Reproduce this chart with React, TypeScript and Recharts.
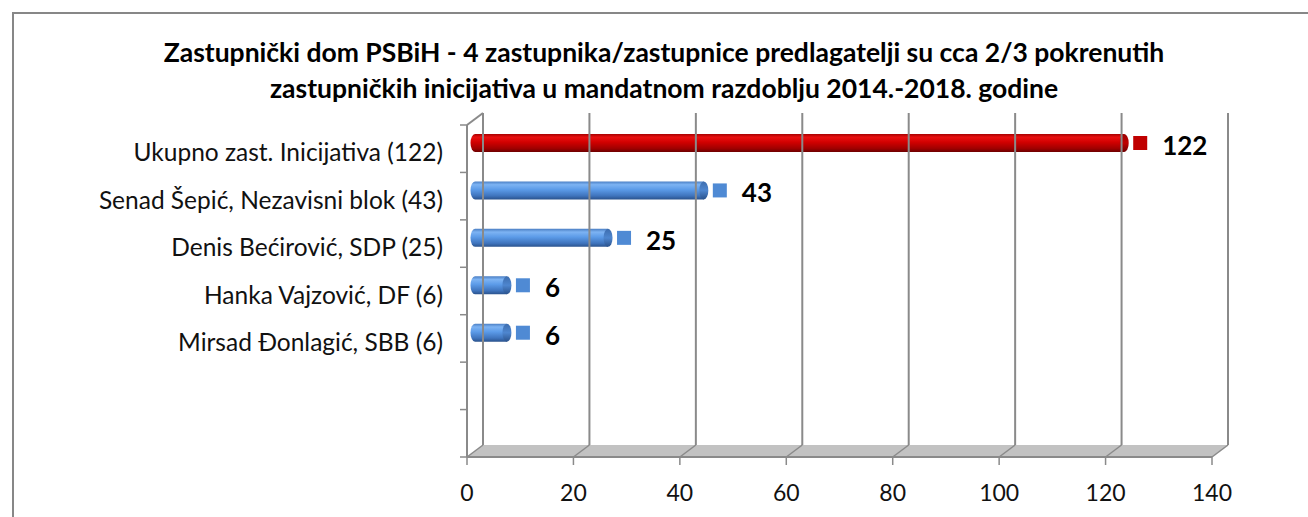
import React from 'react';
import {
  BarChart,
  Bar,
  XAxis,
  YAxis,
  ReferenceLine,
  ReferenceArea,
  LabelList,
  Cell,
} from 'recharts';

const TITLE_LINES = [
  'Zastupnički dom PSBiH - 4 zastupnika/zastupnice predlagatelji su cca 2/3 pokrenutih',
  'zastupničkih inicijativa u mandatnom razdoblju 2014.-2018. godine',
];

// 7 kategorija na osi, zadnje dvije su prazne (kao u Excelu)
const CATEGORIES = [
  'Ukupno zast. Inicijativa (122)',
  'Senad Šepić, Nezavisni blok (43)',
  'Denis Bećirović, SDP (25)',
  'Hanka Vajzović, DF (6)',
  'Mirsad Đonlagić, SBB (6)',
  '',
  '',
];
const VALUES = [122, 43, 25, 6, 6, null, null];
const X_TICKS = [0, 20, 40, 60, 80, 100, 120, 140];

const BAR_KIND = ['total', 'member', 'member', 'member', 'member', 'member', 'member'];

const W = 1308;
const H = 517;
const DX = 16; // dubina 3D zida
const DY = 12;
const FONT = 'Lato, "Open Sans", sans-serif';
const FRAME = '#8a8a8a';

const SWATCH = { total: '#C00000', member: '#4F8AD4' };

const data = CATEGORIES.map((name, i) => ({ name, value: VALUES[i], kind: BAR_KIND[i] }));

const Cylinder = (props: any) => {
  const { x, y, width, height, payload } = props;
  if (!width || width <= 0) return null;
  const X = x + DX / 2;
  const Y = y - DY / 2;
  const ry = height / 2;
  const rx = 4.5;
  const id = payload.kind === 'total' ? 'cylRed' : 'cylBlue';
  const cap = payload.kind === 'total' ? 'capRed' : 'capBlue';
  const body = `M ${X} ${Y} L ${X + width} ${Y} L ${X + width} ${Y + height} L ${X} ${Y + height} A ${rx} ${ry} 0 0 1 ${X} ${Y} Z`;
  return (
    <g>
      <path d={body} fill={`url(#${id})`} />
      <ellipse cx={X + width} cy={Y + ry} rx={rx} ry={ry} fill={`url(#${cap})`} />
    </g>
  );
};

const ValueLabel = (props: any) => {
  const { x, y, width, height, value, index } = props;
  if (value == null) return null;
  const kind = BAR_KIND[index];
  const end = x + width + DX / 2;
  const cy = y - DY / 2 + height / 2;
  const s = 14;
  return (
    <g>
      <rect x={end + 9} y={cy - s / 2} width={s} height={s} fill={SWATCH[kind as 'total' | 'member']} />
      <text
        x={end + 9 + s + 15}
        y={cy + 2}
        dominantBaseline="central"
        fontFamily={FONT}
        fontWeight={700}
        fontSize={26}
        fill="#000"
      >
        {value}
      </text>
    </g>
  );
};

// pod (siva ploča), dijagonala gore lijevo i crtice između kategorija
const Floor = (props: any) => {
  const { x, y, width, height } = props;
  const b = y + height;
  const n = CATEGORIES.length;
  return (
    <g>
      <polygon
        points={`${x},${b} ${x + width},${b} ${x + width + DX},${b - DY} ${x + DX},${b - DY}`}
        fill="#c2c2c2"
      />
      <line x1={x} y1={y} x2={x + DX} y2={y - DY} stroke={FRAME} strokeWidth={2} />
      {CATEGORIES.concat(['']).map((_, k) => (
        <line
          key={k}
          x1={x - 7}
          y1={y + (height * k) / n}
          x2={x}
          y2={y + (height * k) / n}
          stroke={FRAME}
          strokeWidth={1.5}
        />
      ))}
    </g>
  );
};

const WallLine = (props: any) => {
  const top = Math.min(props.y1, props.y2);
  const bottom = Math.max(props.y1, props.y2);
  const x = props.x1;
  return (
    <g>
      <line x1={x + DX} y1={top - DY} x2={x + DX} y2={bottom - DY} stroke={FRAME} strokeWidth={2} />
      <line x1={x} y1={bottom} x2={x + DX} y2={bottom - DY} stroke={FRAME} strokeWidth={1.5} />
    </g>
  );
};

const CategoryTick = (props: any) => {
  const { x, y, payload } = props;
  return (
    <text x={x} y={y + 3} textAnchor="end" dominantBaseline="central" fontFamily={FONT} fontSize={24.5} fill="#111">
      {payload.value}
    </text>
  );
};

export default function App() {
  return (
    <div style={{ position: 'absolute', left: 0, top: 0, width: W, height: H, overflow: 'hidden', background: '#fff' }}>
      <svg width={0} height={0} style={{ position: 'absolute' }}>
        <defs>
          <linearGradient id="cylBlue" x1="0" y1="0" x2="0" y2="1">
            <stop offset="0%" stopColor="#4B7FC4" />
            <stop offset="18%" stopColor="#7DB3F3" />
            <stop offset="45%" stopColor="#5C9BE8" />
            <stop offset="80%" stopColor="#3F74BD" />
            <stop offset="100%" stopColor="#2A528C" />
          </linearGradient>
          <linearGradient id="capBlue" x1="0" y1="0" x2="0" y2="1">
            <stop offset="0%" stopColor="#3D6DAE" />
            <stop offset="50%" stopColor="#4E86CF" />
            <stop offset="100%" stopColor="#2A528C" />
          </linearGradient>
          <linearGradient id="cylRed" x1="0" y1="0" x2="0" y2="1">
            <stop offset="0%" stopColor="#A80000" />
            <stop offset="18%" stopColor="#E81010" />
            <stop offset="45%" stopColor="#D20000" />
            <stop offset="80%" stopColor="#A00000" />
            <stop offset="100%" stopColor="#6E0000" />
          </linearGradient>
          <linearGradient id="capRed" x1="0" y1="0" x2="0" y2="1">
            <stop offset="0%" stopColor="#9A0000" />
            <stop offset="50%" stopColor="#C00000" />
            <stop offset="100%" stopColor="#6E0000" />
          </linearGradient>
        </defs>
      </svg>

      <div
        style={{
          position: 'absolute',
          left: 12,
          top: 12,
          width: W + 20,
          height: H + 20,
          border: '2px solid #878787',
          boxSizing: 'border-box',
        }}
      />

      <div
        style={{
          position: 'absolute',
          left: 14,
          width: 1300,
          top: 34,
          textAlign: 'center',
          fontFamily: FONT,
          fontWeight: 700,
          fontSize: 26.5,
          lineHeight: '36px',
          color: '#000',
        }}
      >
        {TITLE_LINES.map((t) => (
          <div key={t}>{t}</div>
        ))}
      </div>

      <div style={{ position: 'absolute', left: 0, top: 0 }}>
        <BarChart
          width={W}
          height={H}
          data={data}
          layout="vertical"
          margin={{ top: 125, right: 96, left: 27, bottom: 20 }}
        >
          <XAxis
            type="number"
            domain={[0, 140]}
            ticks={X_TICKS}
            interval={0}
            height={40}
            axisLine={{ stroke: FRAME, strokeWidth: 2 }}
            tickLine={{ stroke: FRAME, strokeWidth: 1.5 }}
            tickSize={8}
            tickMargin={20}
            tick={{ fontFamily: FONT, fontSize: 23, fill: '#111' }}
          />
          <YAxis
            yAxisId="cat"
            type="category"
            dataKey="name"
            width={440}
            axisLine={{ stroke: FRAME, strokeWidth: 2 }}
            tickLine={false}
            tickSize={6}
            tickMargin={18}
            interval={0}
            tick={<CategoryTick />}
          />
          <ReferenceArea yAxisId="cat" x1={0} x2={140} shape={<Floor />} ifOverflow="visible" />
          {X_TICKS.map((t) => (
            <ReferenceLine key={`x${t}`} yAxisId="cat" x={t} shape={<WallLine />} ifOverflow="visible" />
          ))}
          <Bar yAxisId="cat" dataKey="value" barSize={18} shape={<Cylinder />} isAnimationActive={false}>
            {data.map((d, i) => (
              <Cell key={i} fill={SWATCH[d.kind as 'total' | 'member']} />
            ))}
            <LabelList dataKey="value" content={<ValueLabel />} />
          </Bar>
        </BarChart>
      </div>
    </div>
  );
}
